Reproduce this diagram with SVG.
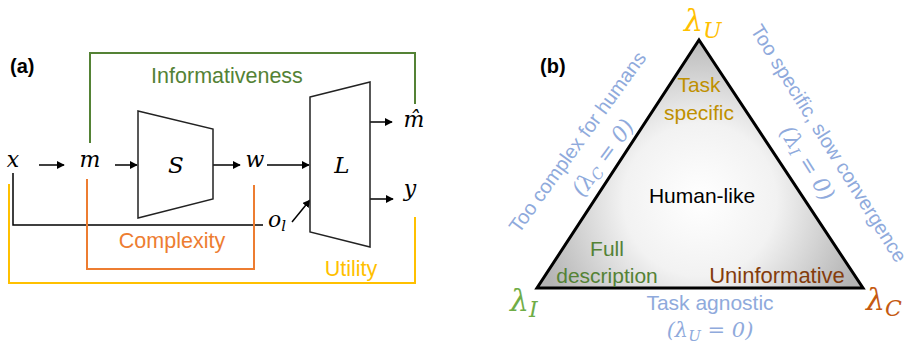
<svg xmlns="http://www.w3.org/2000/svg" width="911" height="349" viewBox="0 0 911 349">
<style>
.lbl{font-family:"Liberation Sans",Arial,sans-serif}
.math{font-family:"DejaVu Serif","Liberation Serif",serif;font-style:italic}
.blk{fill:none;stroke:#000;stroke-width:1.5}
.shape{fill:#fff;stroke:#222;stroke-width:1.5}
.blue{fill:#8FAADC}
</style>
<defs>
<marker id="ah" viewBox="0 0 10 10" refX="9" refY="5" markerWidth="8" markerHeight="8" markerUnits="userSpaceOnUse" orient="auto">
<path d="M0,0 L10,5 L0,10 z" fill="#000"/>
</marker>
<radialGradient id="tri" gradientUnits="userSpaceOnUse" cx="700" cy="200" r="170">
<stop offset="0" stop-color="#ffffff"/>
<stop offset="0.45" stop-color="#f2f2f2"/>
<stop offset="1" stop-color="#b4b4b4"/>
</radialGradient>
</defs>
<rect width="911" height="349" fill="#fff"/>

<!-- panel (a) -->
<text class="lbl" x="10" y="73" font-size="20" font-weight="bold">(a)</text>

<g id="connectors">
<path class="blk" d="M39,165 H64" marker-end="url(#ah)"/>
<path class="blk" d="M115,165 H137" marker-end="url(#ah)"/>
<path class="blk" d="M213,165 H240" marker-end="url(#ah)"/>
<path class="blk" d="M267,165 H309" marker-end="url(#ah)"/>
<path class="blk" d="M370,122 H392" marker-end="url(#ah)"/>
<path class="blk" d="M370,199 H393" marker-end="url(#ah)"/>
<path class="blk" d="M13,173 V225 H263"/>
<path class="blk" d="M292,222 L310,200" marker-end="url(#ah)"/>
<path d="M90,143 V53 H415 V104" fill="none" stroke="#548235" stroke-width="2"/>
<path d="M87,179 V269 H254 V185" fill="none" stroke="#ED7D31" stroke-width="2"/>
<path d="M9,184 V283 H415 V217" fill="none" stroke="#FFC000" stroke-width="2"/>
</g>

<g id="node-S">
<polygon class="shape" points="138,111 213,129 213,199 138,218"/>
<text class="math" x="176" y="173" font-size="23" text-anchor="middle">S</text>
</g>
<g id="node-L">
<polygon class="shape" points="310,97 370,82 370,247 310,232"/>
<text class="math" x="342" y="173" font-size="23" text-anchor="middle">L</text>
</g>
<g id="node-x"><text class="math" x="13" y="167" font-size="22" text-anchor="middle">x</text></g>
<g id="node-m"><text class="math" x="90" y="167" font-size="22" text-anchor="middle">m</text></g>
<g id="node-w"><text class="math" x="255" y="167" font-size="22" text-anchor="middle">w</text></g>
<g id="node-mhat"><text class="math" x="414" y="127" font-size="22" text-anchor="middle">m&#x302;</text></g>
<g id="node-y"><text class="math" x="410" y="196" font-size="22" text-anchor="middle">y</text></g>
<g id="node-ol"><text class="math" x="268" y="227" font-size="22">o<tspan font-size="15" dy="4">l</tspan></text></g>

<text class="lbl" x="227" y="83" font-size="21.5" fill="#548235" text-anchor="middle">Informativeness</text>
<text class="lbl" x="172" y="248" font-size="21.5" fill="#ED7D31" text-anchor="middle">Complexity</text>
<text class="lbl" x="351" y="276" font-size="21.5" fill="#FFC000" text-anchor="middle">Utility</text>

<!-- panel (b) -->
<text class="lbl" x="540" y="73" font-size="20" font-weight="bold">(b)</text>

<g id="triangle">
<polygon points="699,40 863,288 537,288" fill="url(#tri)" stroke="#000" stroke-width="3" stroke-linejoin="miter"/>
<text class="lbl" x="699" y="92" font-size="21" fill="#BF9000" text-anchor="middle">Task</text>
<text class="lbl" x="699" y="120" font-size="21" fill="#BF9000" text-anchor="middle">specific</text>
<text class="lbl" x="702" y="203" font-size="21" fill="#000" text-anchor="middle">Human-like</text>
<text class="lbl" x="607" y="256" font-size="21" fill="#548235" text-anchor="middle">Full</text>
<text class="lbl" x="607" y="283" font-size="21" fill="#548235" text-anchor="middle">description</text>
<text class="lbl" x="777" y="283" font-size="22" fill="#843C0C" text-anchor="middle">Uninformative</text>
</g>

<g id="lambda-U"><text class="math" x="684" y="31" font-size="30" fill="#FFC000">λ<tspan font-size="22" dy="7">U</tspan></text></g>
<g id="lambda-I"><text class="math" x="510" y="311" font-size="30" fill="#70AD47">λ<tspan font-size="22" dy="6">I</tspan></text></g>
<g id="lambda-C"><text class="math" x="866" y="310" font-size="30" fill="#C55A11">λ<tspan font-size="22" dy="6">C</tspan></text></g>

<g id="side-left">
<text class="lbl blue" font-size="20" text-anchor="middle" transform="translate(583,146) rotate(-54)">Too complex for humans</text>
<text class="math blue" font-size="22" text-anchor="middle" font-style="normal" transform="translate(609,162) rotate(-54)">(<tspan font-style="italic">λ</tspan><tspan font-style="italic" font-size="15" dy="3">C</tspan><tspan dy="-3"> = 0)</tspan></text>
</g>
<g id="side-right">
<text class="lbl blue" font-size="20" text-anchor="middle" transform="translate(823,147) rotate(58)">Too specific, slow convergence</text>
<text class="math blue" font-size="22" text-anchor="middle" font-style="normal" transform="translate(801,167) rotate(58)">(<tspan font-style="italic">λ</tspan><tspan font-style="italic" font-size="15" dy="3">I</tspan><tspan dy="-3"> = 0)</tspan></text>
</g>
<g id="side-bottom">
<text class="lbl blue" x="710" y="310" font-size="21" text-anchor="middle">Task agnostic</text>
<text class="math blue" x="710" y="337" font-size="21" text-anchor="middle" font-style="normal">(<tspan font-style="italic">λ</tspan><tspan font-style="italic" font-size="15" dy="4">U</tspan><tspan dy="-4"> = 0)</tspan></text>
</g>
</svg>
